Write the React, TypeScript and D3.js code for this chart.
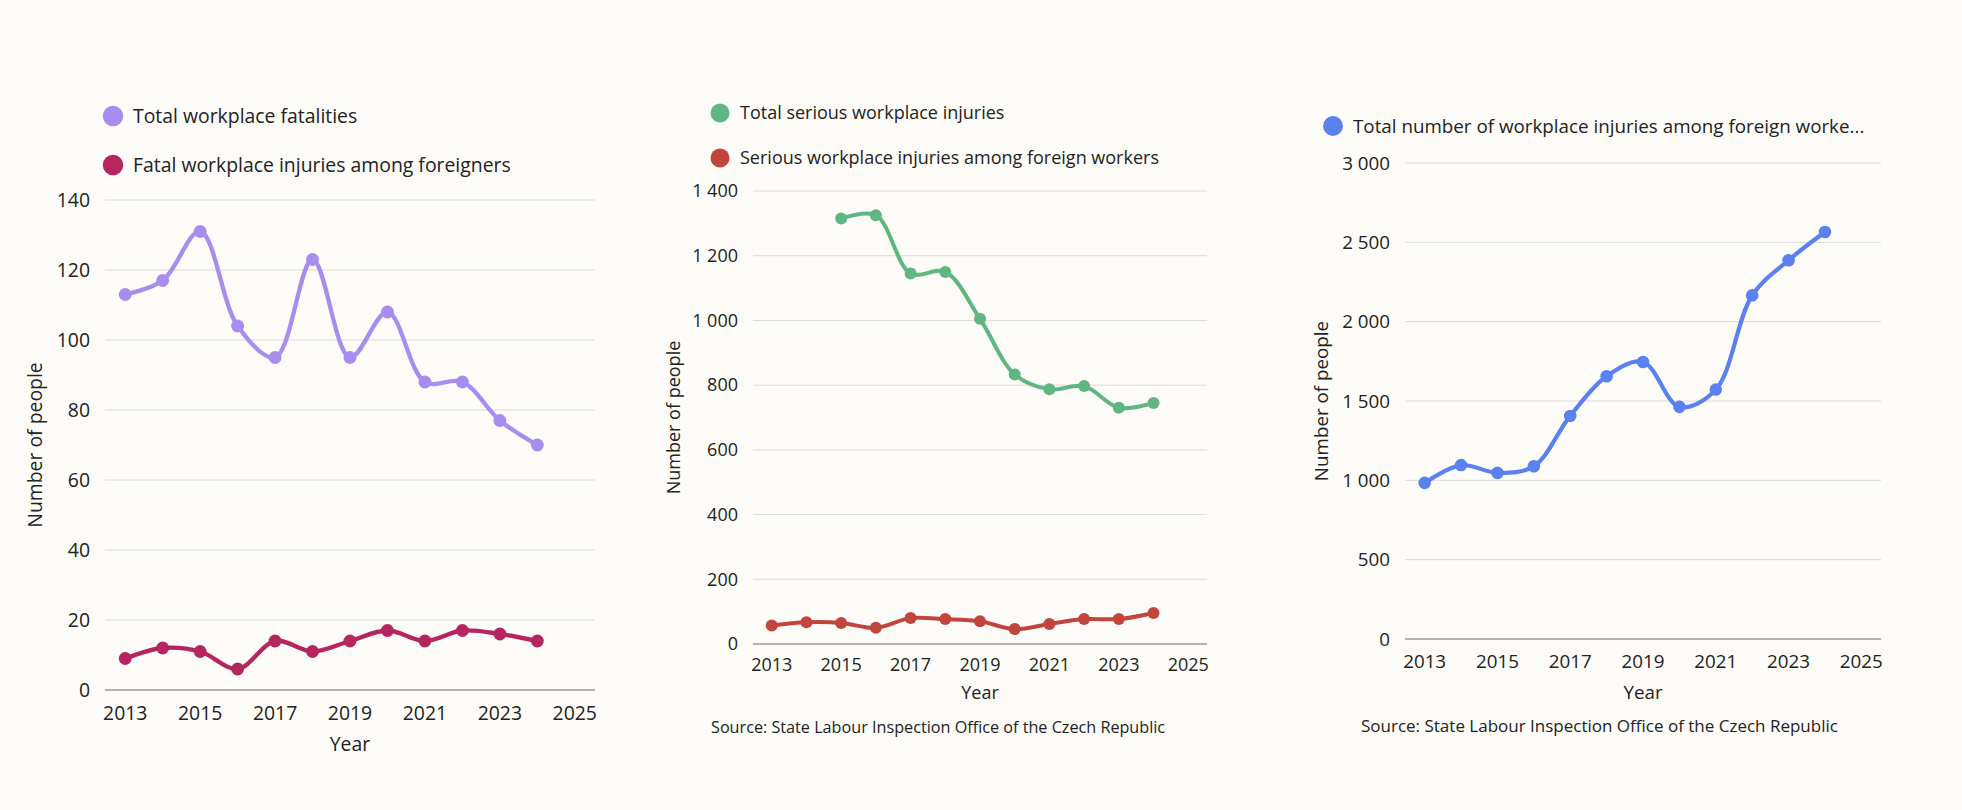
import * as d3 from "d3";
import { useEffect, useRef } from "react";

const years = [2013, 2014, 2015, 2016, 2017, 2018, 2019, 2020, 2021, 2022, 2023, 2024];
const yearTicks = [2013, 2015, 2017, 2019, 2021, 2023, 2025];

const fatalitiesTotal = [113, 117, 131, 104, 95, 123, 95, 108, 88, 88, 77, 70];
const fatalitiesForeign = [9, 12, 11, 6, 14, 11, 14, 17, 14, 17, 16, 14];

const seriousYears = [2015, 2016, 2017, 2018, 2019, 2020, 2021, 2022, 2023, 2024];
const seriousTotal = [1315, 1325, 1145, 1150, 1005, 833, 787, 797, 730, 745];
const seriousForeign = [57, 67, 65, 50, 80, 77, 70, 46, 62, 77, 77, 96];

const foreignInjuries = [984, 1096, 1047, 1089, 1406, 1656, 1746, 1463, 1572, 2166, 2387, 2565];

const fatalTicks = [0, 20, 40, 60, 80, 100, 120, 140];
const seriousTicks = [0, 200, 400, 600, 800, 1000, 1200, 1400];
const foreignTicks = [0, 500, 1000, 1500, 2000, 2500, 3000];

const FONT = "'Open Sans', 'Noto Sans', sans-serif";
const source = "Source: State Labour Inspection Office of the Czech Republic";

type Series = { name: string; color: string; xs: number[]; ys: number[] };
type Panel = {
    left: number; right: number; top: number; bottom: number;
    ticks: number[];
    series: Series[];
    fontSize: number;
    legendX: number; legendY: number[];
    titleX: number;
    tickLabelY: number; yearY: number;
    sourceX?: number; sourceY?: number; sourceSize?: number;
};

const panels: Panel[] = [
    {
        left: 105, right: 595, top: 200, bottom: 690,
        ticks: fatalTicks,
        series: [
            { name: "Total workplace fatalities", color: "#a88df0", xs: years, ys: fatalitiesTotal },
            { name: "Fatal workplace injuries among foreigners", color: "#b6255f", xs: years, ys: fatalitiesForeign },
        ],
        fontSize: 19.4,
        legendX: 113, legendY: [116, 165],
        titleX: 35, tickLabelY: 713, yearY: 744,
    },
    {
        left: 753, right: 1207, top: 191, bottom: 644,
        ticks: seriousTicks,
        series: [
            { name: "Total serious workplace injuries", color: "#60b680", xs: seriousYears, ys: seriousTotal },
            { name: "Serious workplace injuries among foreign workers", color: "#c1453c", xs: years, ys: seriousForeign },
        ],
        fontSize: 18,
        legendX: 720, legendY: [113, 158],
        titleX: 674, tickLabelY: 665, yearY: 693,
        sourceX: 711, sourceY: 727, sourceSize: 16.2,
    },
    {
        left: 1405, right: 1881, top: 163, bottom: 639,
        ticks: foreignTicks,
        series: [
            { name: "Total number of workplace injuries among foreign worke...", color: "#5b80f0", xs: years, ys: foreignInjuries },
        ],
        fontSize: 18.8,
        legendX: 1333, legendY: [126],
        titleX: 1321, tickLabelY: 661, yearY: 692,
        sourceX: 1361, sourceY: 726, sourceSize: 17,
    },
];

const fmt = (v: number) => d3.format(",")(v).replace(/,/g, " ");

function drawCharts(svgRef: React.RefObject<SVGSVGElement>) {
    const svg = d3.select(svgRef.current);
    svg.selectAll("*").remove();

    svg.append("rect").attr("width", 1962).attr("height", 810).attr("fill", "#fdfcf8");

    panels.forEach(p => {
        const g = svg.append("g").style("font-family", FONT);
        const fs = p.fontSize + "px";
        const k = p.fontSize / 18;
        const x = d3.scaleLinear().domain([2012.46, 2025.54]).range([p.left, p.right]);
        const y = d3.scaleLinear().domain([0, p.ticks[p.ticks.length - 1]]).range([p.bottom, p.top]);

        // gridlines
        g.selectAll("line.grid")
            .data(p.ticks)
            .enter()
            .append("line")
            .attr("x1", p.left)
            .attr("x2", p.right)
            .attr("y1", d => y(d))
            .attr("y2", d => y(d))
            .attr("stroke", d => (d === 0 ? "#9a9a9a" : "#dadada"))
            .attr("stroke-width", d => (d === 0 ? 1.5 : 1));

        g.selectAll("text.ytick")
            .data(p.ticks)
            .enter()
            .append("text")
            .attr("x", p.left - 15)
            .attr("y", d => y(d))
            .attr("dy", "0.35em")
            .attr("text-anchor", "end")
            .style("font-size", fs)
            .attr("fill", "#222")
            .text(d => fmt(d));

        g.selectAll("text.xtick")
            .data(yearTicks)
            .enter()
            .append("text")
            .attr("x", d => x(d))
            .attr("y", p.tickLabelY)
            .attr("dy", "0.35em")
            .attr("text-anchor", "middle")
            .style("font-size", fs)
            .attr("fill", "#222")
            .text(d => String(d));

        g.append("text")
            .attr("x", (p.left + p.right) / 2)
            .attr("y", p.yearY)
            .attr("dy", "0.35em")
            .attr("text-anchor", "middle")
            .style("font-size", fs)
            .attr("fill", "#222")
            .text("Year");

        g.append("text")
            .attr("transform", `translate(${p.titleX},${(p.top + p.bottom) / 2}) rotate(-90)`)
            .attr("dy", "0.35em")
            .attr("text-anchor", "middle")
            .style("font-size", fs)
            .attr("fill", "#222")
            .text("Number of people");

        if (p.sourceX !== undefined) {
            g.append("text")
                .attr("x", p.sourceX)
                .attr("y", p.sourceY!)
                .attr("dy", "0.35em")
                .style("font-size", p.sourceSize + "px")
                .attr("fill", "#222")
                .text(source);
        }

        const line = d3.line<[number, number]>()
            .x(d => x(d[0]))
            .y(d => y(d[1]))
            .curve(d3.curveCatmullRom.alpha(0.5));

        p.series.forEach((s, i) => {
            const pts: [number, number][] = s.xs.map((yr, j) => [yr, s.ys[j]]);
            g.append("path")
                .attr("d", line(pts))
                .attr("fill", "none")
                .attr("stroke", s.color)
                .attr("stroke-width", 4 * k);
            g.selectAll(null)
                .data(pts)
                .enter()
                .append("circle")
                .attr("cx", d => x(d[0]))
                .attr("cy", d => y(d[1]))
                .attr("r", 6 * k)
                .attr("fill", s.color);

            // legend
            g.append("circle")
                .attr("cx", p.legendX)
                .attr("cy", p.legendY[i])
                .attr("r", 9.5 * k)
                .attr("fill", s.color);
            g.append("text")
                .attr("x", p.legendX + 20)
                .attr("y", p.legendY[i])
                .attr("dy", "0.35em")
                .style("font-size", fs)
                .attr("fill", "#222")
                .text(s.name);
        });
    });
}

export default function App() {
    const svgRef = useRef<SVGSVGElement>(null);
    useEffect(() => {
        document.body.style.margin = "0";
        document.body.style.background = "#fdfcf8";
        drawCharts(svgRef);
    }, []);
    return <svg ref={svgRef} width={1962} height={810} style={{ display: "block" }} />;
}
